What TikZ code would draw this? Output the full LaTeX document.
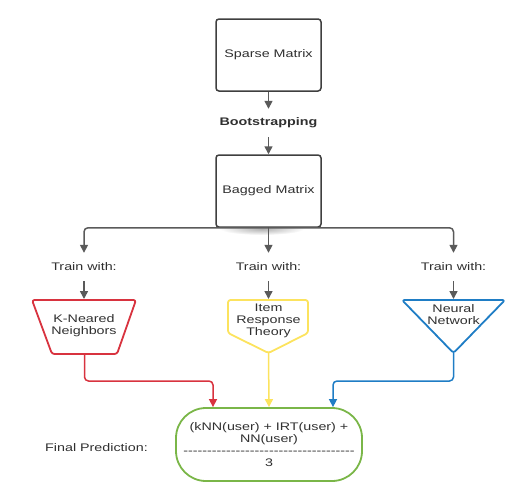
\documentclass[tikz,border=0pt]{standalone}
\usepackage{fontspec}
\setmainfont[FakeStretch=1.3]{Liberation Sans}
\usetikzlibrary{arrows.meta,calc}
\definecolor{grayln}{HTML}{5A5A5A}
\definecolor{boxln}{HTML}{3F3F3F}
\definecolor{txt}{HTML}{303030}
\definecolor{knnred}{HTML}{D8333F}
\definecolor{irtyel}{HTML}{FCE35E}
\definecolor{nnblue}{HTML}{1F7DC5}
\definecolor{fingreen}{HTML}{7AB648}
\tikzset{
  txt/.style={font=\fontsize{11}{12}\selectfont, text=txt, align=center, inner sep=0pt},
  matbox/.style={draw=boxln, line width=1.5pt, rounded corners=3pt, fill=white, minimum width=105pt, minimum height=72pt, txt},
  lbl/.style={txt, minimum height=28pt},
  arr/.style={draw=grayln, line width=1.5pt, -{Triangle[length=8pt,width=8pt]}},
  shp/.style={line width=1.8pt, rounded corners=2.5pt, line join=round},
}
\begin{document}
\begin{tikzpicture}[x=1pt,y=-1pt]
\useasboundingbox (0,0) rectangle (532,493);
% soft shadow under bagged matrix
\shade[inner color=black!30, outer color=white] (262,229) ellipse (42 and 6);
% top boxes
\node[matbox] (sparse) at (268.5,55) {Sparse Matrix};
\node[lbl, font=\fontsize{11}{12}\selectfont\bfseries] (boot) at (268.5,123) {Bootstrapping};
\node[matbox] (bagged) at (268.5,191) {Bagged Matrix};
\draw[arr] (sparse.south) -- (boot.north);
\draw[arr] (boot.south) -- (bagged.north);
% train labels
\node[lbl] (t1) at (84,267) {Train with:};
\node[lbl] (t2) at (268.5,267) {Train with:};
\node[lbl] (t3) at (453.5,267) {Train with:};
\draw[arr, rounded corners=4pt] (bagged.south) -| (t1.north);
\draw[arr] (bagged.south) -- (t2.north);
\draw[arr, rounded corners=4pt] (bagged.south) -| (t3.north);
% shapes
\draw[shp, draw=knnred] (32,300) -- (136,300) -- (117,354) -- (52,354) -- cycle;
\draw[shp, draw=irtyel] (228,300) -- (308,300) -- (308,333) -- (268.5,353) -- (228,333) -- cycle;
\draw[shp, draw=nnblue] (402,300) -- (505,300) -- (453.5,353) -- cycle;
\coordinate (knnt) at (84,299);
\coordinate (irtt) at (268.5,299);
\coordinate (nnt) at (453.5,299);
\coordinate (knnb) at (84.5,354);
\coordinate (irtb) at (268.5,353);
\coordinate (nnb) at (453.5,353);
\node[txt] (knn) at (84,326) {K-Neared\\Neighbors};
\node[txt] (irt) at (268.5,321) {Item\\Response\\Theory};
\node[txt] (nn) at (453.5,315) {Neural\\Network};
\draw[arr] (t1.south) -- (knnt);
\draw[arr] (t2.south) -- (irtt);
\draw[arr] (t3.south) -- (nnt);
% final
\node[draw=fingreen, line width=1.8pt, rounded corners=30pt, minimum width=186pt, minimum height=73pt, txt] (final) at (269,444.5)
  {(kNN(user) + IRT(user) +\\NN(user)\\-{}-{}-{}-{}-{}-{}-{}-{}-{}-{}-{}-{}-{}-{}-{}-{}-{}-{}-{}-{}-{}-{}-{}-{}-{}-{}-{}-{}-{}-{}-{}-{}-{}-{}-{}-{}\\3};
\node[txt] (fp) at (96.5,448) {Final Prediction:};
\coordinate (mid) at (0,381);
\coordinate (fin1) at ($(final.north)+(-56,0)$);
\coordinate (fin3) at ($(final.north)+(64,0)$);
\draw[arr, draw=knnred, rounded corners=4pt] (knnb) -- (knnb |- mid) -| (fin1);
\draw[arr, draw=irtyel] (irtb) -- (final.north);
\draw[arr, draw=nnblue, rounded corners=4pt] (nnb) -- (nnb |- mid) -| (fin3);
\end{tikzpicture}
\end{document}
